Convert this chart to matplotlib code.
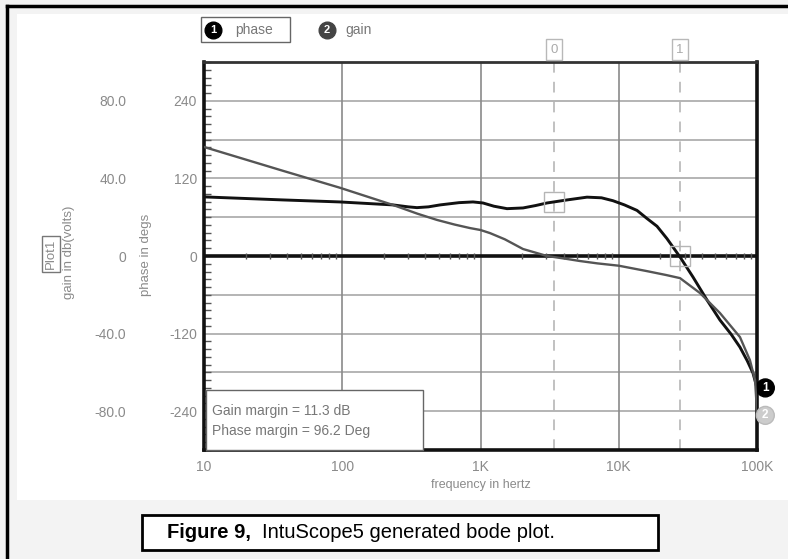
import numpy as np
import matplotlib
matplotlib.use("Agg")
import matplotlib.pyplot as plt
from matplotlib.patches import Rectangle
from matplotlib.lines import Line2D
import matplotlib.transforms as mtransforms

plt.rcParams['font.family'] = ['Liberation Sans', 'DejaVu Sans']

# ---------------- data ----------------
phase_freq = [10, 37.3, 96, 233, 300, 347, 420, 510, 700, 883, 1042, 1250, 1555, 2030, 2500,
              3027, 4226, 5893, 7500, 9080, 11000, 13550, 16000, 18910, 22300, 27740, 34430,
              43460, 53950, 65000, 75300, 85000, 93500, 100000]
phase_deg = [91.4, 86.7, 83.6, 79.0, 76.0, 74.8, 76.0, 79.0, 82.5, 83.6, 82.0, 77.0, 73.2, 74.3, 78.0,
             82.0, 86.7, 91.0, 90.0, 85.5, 79.0, 70.5, 58.0, 46.0, 27.0, -1.5, -32.5,
             -68.0, -99.0, -121.0, -141.0, -162.0, -181.0, -204.0]

gain_freq = [10, 37.3, 96, 233, 350, 484, 650, 839, 1000, 1172, 1500, 2030, 3027, 4200, 5250,
             7000, 10000, 16000, 22000, 27740, 38700, 53950, 75300, 88900, 96800, 100000]
gain_db = [56.2, 43.9, 35.2, 26.3, 21.8, 18.6, 16.2, 14.4, 13.4, 11.8, 8.6, 3.6, 0.0, -1.5, -2.6,
           -3.8, -5.0, -7.8, -9.8, -11.4, -19.1, -29.4, -41.8, -53.7, -64.0, -80.0]

cursor_freq = [3400, 27700]
cursor_labels = ['0', '1']
phase_margin_phase = 83.8   # phase at gain crossover (180 - 96.2)
phase_at_cursor1 = 0.0      # phase crossover point

x_ticks = [10, 100, 1000, 10000, 100000]
x_ticklabels = ['10', '100', '1K', '10K', '100K']
phase_ticks = [-240, -120, 0, 120, 240]
phase_ticklabels = ['-240', '-120', '0', '120', '240']
gain_ticks = [-80, -40, 0, 40, 80]
gain_ticklabels = ['-80.0', '-40.0', '0', '40.0', '80.0']

W, H = 788, 559
fig = plt.figure(figsize=(W / 100, H / 100), dpi=100)
fig.patch.set_facecolor('#f3f3f3')

def fx(px):
    return px / W

def fy(py):
    return 1 - py / H

# white panel and outer border
fig.patches.append(Rectangle((fx(17), fy(500)), fx(790) - fx(17), fy(14) - fy(500),
                             transform=fig.transFigure, facecolor='white', edgecolor='none', zorder=-5))
fig.lines.append(Line2D([fx(7), fx(7)], [fy(6), 0], transform=fig.transFigure, color='black', lw=2.5, zorder=-4))
fig.lines.append(Line2D([fx(7), 1], [fy(6), fy(6)], transform=fig.transFigure, color='black', lw=2.5, zorder=-4))

L, R, T, B = 204, 757, 62, 450
ax = fig.add_axes([fx(L), fy(B), fx(R) - fx(L), fy(T) - fy(B)])
ax.set_zorder(1)
ax.set_facecolor('none')
ax.set_xscale('log')
ax.set_xlim(10, 1e5)
ax.set_ylim(-300, 300)

for yv in [-240, -180, -120, -60, 60, 120, 180, 240]:
    ax.axhline(yv, color='#a8a8a8', lw=1.2, zorder=1)
for xv in [100, 1000, 10000]:
    ax.axvline(xv, color='#8a8a8a', lw=1.2, zorder=1)
ax.axhline(0, color='#111111', lw=2.6, zorder=2)

# minor log ticks along the zero line
minor = [m * 10 ** d for d in range(1, 5) for m in range(2, 10)]
ax.vlines(minor, -4.5, 4.5, color='#555555', lw=1.0, zorder=2)

# minor ticks on the left spine
ax.yaxis.set_minor_locator(matplotlib.ticker.MultipleLocator(12))
ax.tick_params(axis='y', which='minor', direction='in', length=5, width=1, color='#555555')

ax.set_xticks(x_ticks)
ax.set_xticklabels(x_ticklabels)
ax.xaxis.set_minor_locator(matplotlib.ticker.NullLocator())
ax.tick_params(axis='x', which='major', length=0, pad=7, labelsize=10, labelcolor='#8a8a8a')
ax.set_yticks(phase_ticks)
ax.set_yticklabels(phase_ticklabels)
ax.tick_params(axis='y', which='major', length=0, pad=5, labelsize=10, labelcolor='#8a8a8a')
ax.set_xlabel('frequency in hertz', fontsize=9, color='#8a8a8a', labelpad=4)

for s in ['left', 'bottom', 'right']:
    ax.spines[s].set_linewidth(2.6)
    ax.spines[s].set_color('#111111')
ax.spines['top'].set_linewidth(2.0)
ax.spines['top'].set_color('#333333')

# gain axis (twin)
ax2 = ax.twinx()
ax2.set_zorder(2)
ax2.set_ylim(-100, 100)
ax2.yaxis.set_ticks_position('left')
ax2.set_yticks(gain_ticks)
ax2.set_yticklabels(gain_ticklabels)
ax2.tick_params(axis='y', length=0, pad=56, labelsize=10, labelcolor='#8a8a8a')
for s in ax2.spines.values():
    s.set_visible(False)

# cursors
blend = mtransforms.blended_transform_factory(ax.transData, ax.transAxes)
for cf, cl in zip(cursor_freq, cursor_labels):
    ax.plot([cf, cf], [0, 1.0], transform=blend, color='#b0b0b0', lw=1.1,
            dashes=(7, 6), zorder=1.5, clip_on=False)
    ax.text(cf, 1.032, cl, transform=blend, ha='center', va='center', fontsize=9.5,
            color='#aaaaaa', bbox=dict(boxstyle='square,pad=0.35', fc='white', ec='#b8b8b8', lw=1.0))

# curves
ax2.plot(gain_freq, gain_db, color='#555555', lw=1.7, zorder=3, solid_joinstyle='round')
ax.plot(phase_freq, phase_deg, color='#111111', lw=2.1, zorder=4, solid_joinstyle='round')

# cursor markers on curves
ax.plot([cursor_freq[0]], [phase_margin_phase], marker='s', ms=15, mfc='none', mec='#b5b5b5', mew=1.0, zorder=5)
ax.plot([cursor_freq[1]], [phase_at_cursor1], marker='s', ms=15, mfc='none', mec='#b5b5b5', mew=1.0, zorder=5)

# end markers
ax.annotate('1', (phase_freq[-1], phase_deg[-1]), xytext=(6, 0), textcoords='offset points',
            ha='center', va='center', color='white', fontsize=8.5, fontweight='bold', zorder=7,
            annotation_clip=False,
            bbox=dict(boxstyle='circle,pad=0.25', fc='black', ec='black'))
ax2.annotate('2', (gain_freq[-1], gain_db[-1]), xytext=(6, -3), textcoords='offset points',
             ha='center', va='center', color='white', fontsize=8.5, fontweight='bold', zorder=7,
             annotation_clip=False,
             bbox=dict(boxstyle='circle,pad=0.25', fc='#cccccc', ec='#bbbbbb'))

# margin box
fig.patches.append(Rectangle((fx(206), fy(450)), fx(423) - fx(206), fy(390) - fy(450),
                             transform=fig.transFigure, facecolor='white', edgecolor='#666666',
                             lw=1.0, zorder=10))
fig.text(fx(212), fy(411), 'Gain margin = 11.3 dB', fontsize=10, color='#777777', va='center', zorder=11)
fig.text(fx(212), fy(431), 'Phase margin = 96.2 Deg', fontsize=10, color='#777777', va='center', zorder=11)

# y-axis titles
fig.text(fx(146), fy(255), 'phase in degs', rotation=90, fontsize=9.5, color='#8a8a8a',
         ha='center', va='center')
fig.text(fx(69), fy(252), 'gain in db(volts)', rotation=90, fontsize=9.5, color='#8a8a8a',
         ha='center', va='center')
fig.text(fx(51), fy(254), 'Plot1', rotation=90, fontsize=9.5, color='#8a8a8a',
         ha='center', va='center',
         bbox=dict(boxstyle='square,pad=0.2', fc='white', ec='#777777', lw=1.0))

# top legend
fig.patches.append(Rectangle((fx(201), fy(42)), fx(290) - fx(201), fy(17) - fy(42),
                             transform=fig.transFigure, facecolor='white', edgecolor='#666666', lw=1.0))
fig.lines.append(Line2D([fx(213)], [fy(30)], transform=fig.transFigure, marker='o', ms=12,
                        color='black', ls='none'))
fig.text(fx(213), fy(30), '1', fontsize=8, color='white', fontweight='bold', ha='center', va='center')
fig.text(fx(235), fy(30), 'phase', fontsize=10, color='#777777', va='center')
fig.lines.append(Line2D([fx(327)], [fy(30)], transform=fig.transFigure, marker='o', ms=12,
                        color='#444444', ls='none'))
fig.text(fx(327), fy(30), '2', fontsize=8, color='white', fontweight='bold', ha='center', va='center')
fig.text(fx(345), fy(30), 'gain', fontsize=10, color='#777777', va='center')

# caption
fig.patches.append(Rectangle((fx(142), fy(550)), fx(658) - fx(142), fy(515) - fy(550),
                             transform=fig.transFigure, facecolor='white', edgecolor='black', lw=2.0))
fig.text(fx(167), fy(532), 'Figure 9,', fontsize=14.5, fontweight='bold', color='black', va='center')
fig.text(fx(262), fy(532), 'IntuScope5 generated bode plot.', fontsize=14.5, color='black', va='center')

fig.savefig('out.png', dpi=100, facecolor=fig.get_facecolor())
